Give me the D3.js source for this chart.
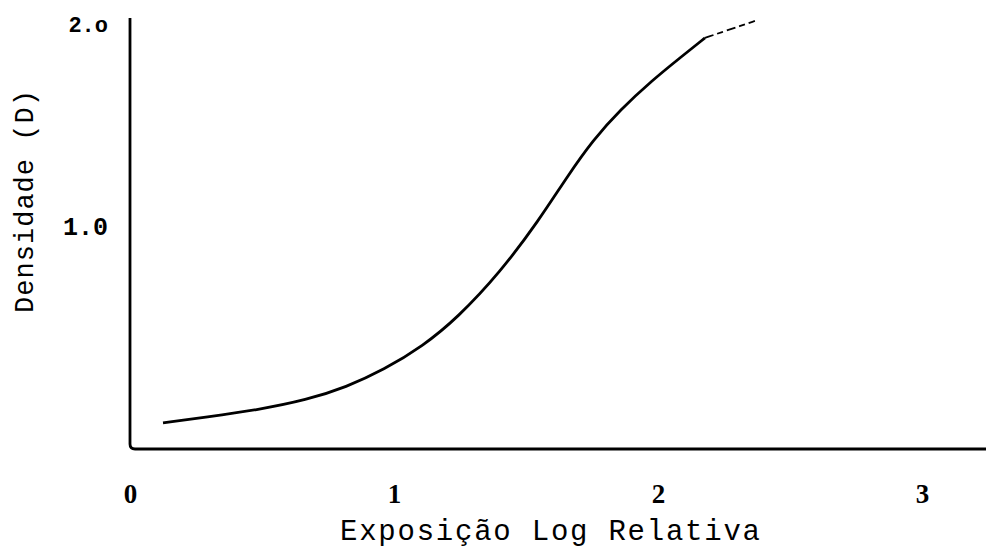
<!DOCTYPE html>
<html>
<head>
<meta charset="utf-8">
<script src="https://cdn.jsdelivr.net/npm/d3@7"></script>
<style>
  body { margin: 0; background: #fff; }
  svg { display: block; }
</style>
</head>
<body>
<svg></svg>
<script>
// curve: log exposure vs density
const logExposure = [0.125, 0.29, 0.48, 0.67, 0.82, 0.96, 1.11, 1.24, 1.40, 1.55, 1.655, 1.754, 1.856, 1.98, 2.083, 2.178];
const density     = [0.025, 0.054, 0.089, 0.139, 0.203, 0.287, 0.406, 0.545, 0.767, 1.030, 1.243, 1.426, 1.574, 1.723, 1.832, 1.931];
// dashed continuation at the shoulder
const tailExposure = [2.178, 2.242, 2.311, 2.367];
const tailDensity  = [1.931, 1.960, 1.990, 2.015];

const xTicks = [0, 1, 2, 3];
const xTickLabels = ['0', '1', '2', '3'];
const yTicks = [1, 2];
const yTickLabels = ['1.0', '2.o'];

const xTitle = 'Exposição Log Relativa';
const yTitle = 'Densidade (D)';

function createElements() {
    const svg = d3.select('svg')
        .attr('width', 986)
        .attr('height', 557);

    const width = +svg.attr('width');

    const x = d3.scaleLinear().domain([0, 3]).range([130, 922]);
    const y = d3.scaleLinear().domain([0, 2]).range([428, 24]);

    const axisTop = 18;
    const axisBottom = 449;

    // L-shaped frame with a slightly rounded corner
    svg.append('path')
        .attr('d', `M${x(0)},${axisTop} L${x(0)},${axisBottom - 5} Q${x(0)},${axisBottom} ${x(0) + 5},${axisBottom} L${width},${axisBottom}`)
        .attr('fill', 'none')
        .attr('stroke', '#000')
        .attr('stroke-width', 2.8);

    // x tick labels
    const xAxis = d3.axisBottom(x)
        .tickValues(xTicks)
        .tickFormat((d, i) => xTickLabels[i])
        .tickSize(0)
        .tickPadding(0);
    const gx = svg.append('g')
        .attr('transform', `translate(0, 484)`)
        .call(xAxis);
    gx.select('.domain').remove();
    gx.selectAll('text')
        .attr('font-family', '"Liberation Serif", serif')
        .attr('font-weight', 'bold')
        .attr('font-size', 27)
        .attr('fill', '#000');

    // y tick labels
    const yAxis = d3.axisLeft(y)
        .tickValues(yTicks)
        .tickFormat((d, i) => yTickLabels[i])
        .tickSize(0)
        .tickPadding(0);
    const gy = svg.append('g')
        .attr('transform', `translate(108, 0)`)
        .call(yAxis);
    gy.select('.domain').remove();
    gy.selectAll('text')
        .attr('font-family', '"Liberation Mono", monospace')
        .attr('font-weight', 'bold')
        .attr('font-size', d => d === 2 ? 22 : 25)
        .attr('fill', '#000');

    // axis titles
    svg.append('text')
        .attr('x', 340)
        .attr('y', 540)
        .attr('textLength', 420)
        .attr('lengthAdjust', 'spacing')
        .attr('font-family', '"Liberation Mono", monospace')
        .attr('font-size', 29)
        .attr('fill', '#000')
        .text(xTitle);

    svg.append('text')
        .attr('transform', 'translate(33, 313) rotate(-90)')
        .attr('textLength', 223)
        .attr('lengthAdjust', 'spacing')
        .attr('font-family', '"Liberation Mono", monospace')
        .attr('font-size', 27)
        .attr('fill', '#000')
        .text(yTitle);

    // the curve
    const line = d3.line()
        .x(d => x(d[0]))
        .y(d => y(d[1]))
        .curve(d3.curveBasis);

    svg.append('path')
        .datum(d3.zip(logExposure, density))
        .attr('d', line)
        .attr('fill', 'none')
        .attr('stroke', '#000')
        .attr('stroke-width', 2.8);

    svg.append('path')
        .datum(d3.zip(tailExposure, tailDensity))
        .attr('d', line)
        .attr('fill', 'none')
        .attr('stroke', '#000')
        .attr('stroke-width', 1.8)
        .attr('stroke-dasharray', '9,4,6,4');
}

createElements();
</script>
</body>
</html>
